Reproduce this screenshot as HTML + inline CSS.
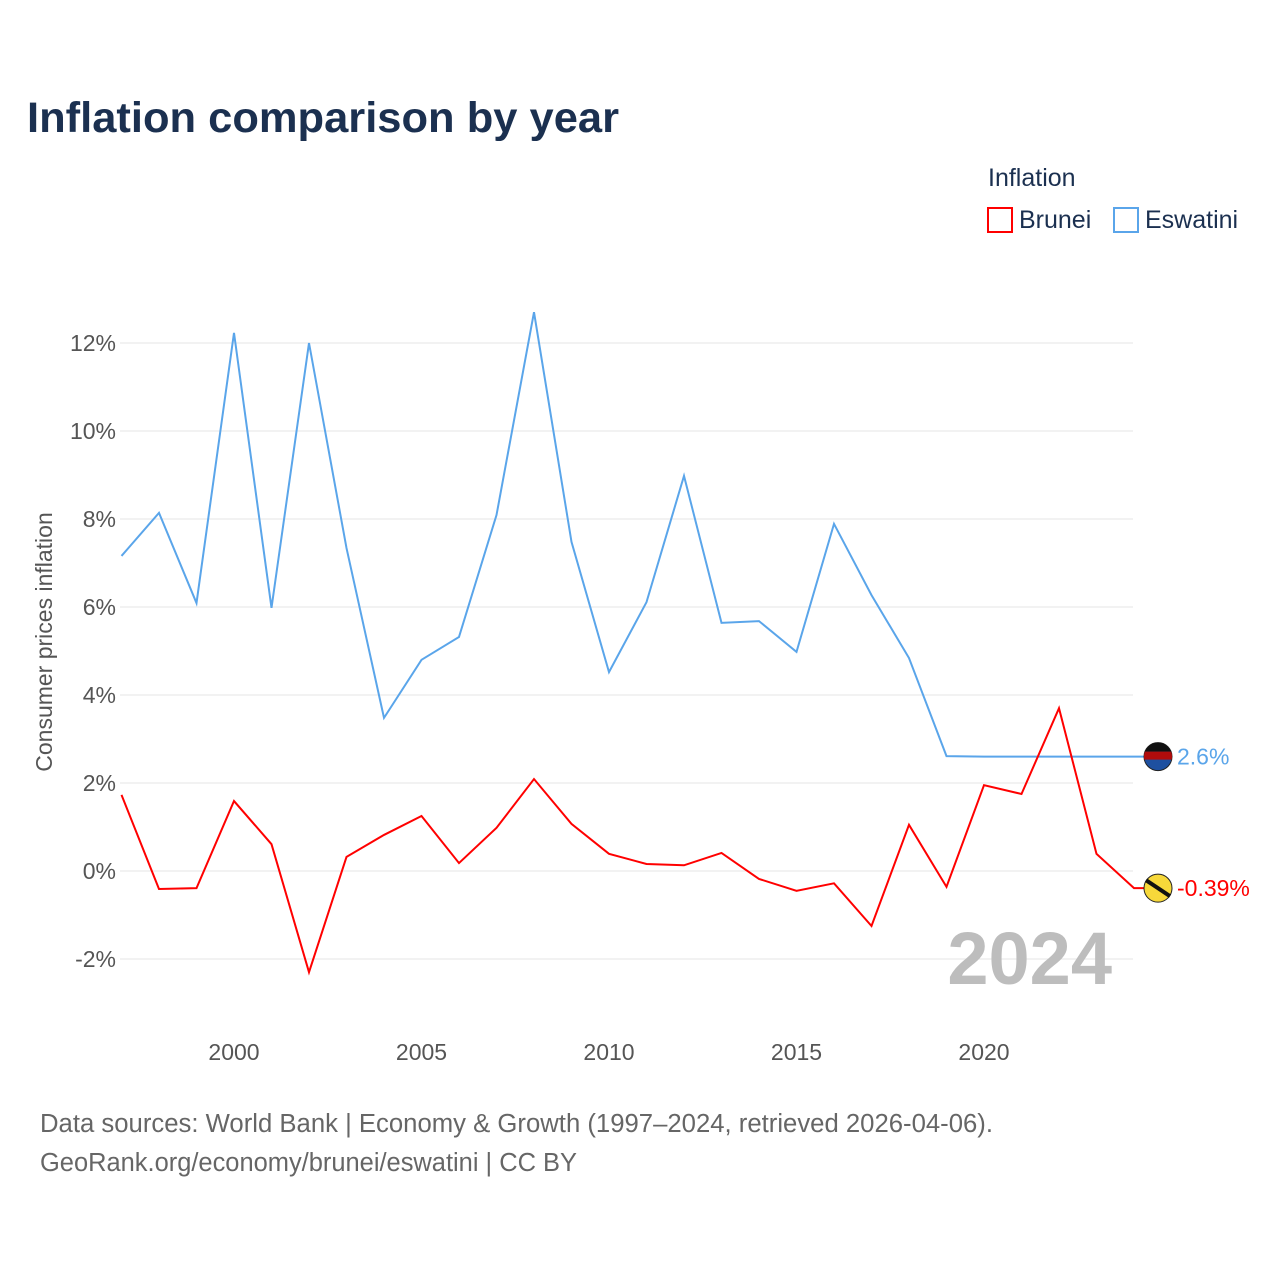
<!DOCTYPE html>
<html><head><meta charset="utf-8">
<style>
body{margin:0;background:#fff;font-family:"Liberation Sans",sans-serif;}
#wrap{position:relative;width:1280px;height:1280px;overflow:hidden;}
</style></head>
<body>
<div id="wrap">
<svg id="chart" width="1280" height="1280" xmlns="http://www.w3.org/2000/svg">
<defs><clipPath id="fc"><circle cx="1158" cy="756.6" r="14"/></clipPath></defs>
<text x="27" y="132" font-size="43" font-weight="bold" fill="#1b3050" textLength="592" lengthAdjust="spacingAndGlyphs">Inflation comparison by year</text>
<text x="988" y="186" font-size="25" fill="#1b3050">Inflation</text>
<g><rect x="988" y="208" width="24" height="24" fill="none" stroke="#ff0000" stroke-width="2"/><text x="1019" y="228" font-size="25" fill="#1b3050">Brunei</text></g>
<g><rect x="1114" y="208" width="24" height="24" fill="none" stroke="#5aa5ea" stroke-width="2"/><text x="1145" y="228" font-size="25" fill="#1b3050">Eswatini</text></g>
<g id="grid"></g><g id="yt"></g><g id="xt"></g>
<text transform="translate(52,642) rotate(-90)" text-anchor="middle" font-size="23" fill="#555">Consumer prices inflation</text>
<text x="1112" y="984" text-anchor="end" font-size="74" font-weight="bold" fill="#bdbdbd">2024</text>
<g id="series"></g>
<text x="40" y="1132" font-size="25.5" fill="#666" textLength="953" lengthAdjust="spacingAndGlyphs">Data sources: World Bank | Economy &amp; Growth (1997–2024, retrieved 2026-04-06).</text>
<text x="40" y="1171" font-size="25.5" fill="#666" textLength="537" lengthAdjust="spacingAndGlyphs">GeoRank.org/economy/brunei/eswatini | CC BY</text>
</svg>
</div>
<script>
const years=[1997,1998,1999,2000,2001,2002,2003,2004,2005,2006,2007,2008,2009,2010,2011,2012,2013,2014,2015,2016,2017,2018,2019,2020,2021,2022,2023,2024];
const eswatini=[7.16,8.14,6.09,12.23,5.98,12.0,7.34,3.48,4.8,5.32,8.09,12.7,7.48,4.52,6.11,8.98,5.64,5.68,4.98,7.89,6.27,4.84,2.61,2.6,2.6,2.6,2.6,2.6];
const brunei=[1.73,-0.41,-0.39,1.59,0.61,-2.3,0.32,0.82,1.25,0.18,0.98,2.09,1.07,0.39,0.16,0.13,0.41,-0.18,-0.45,-0.28,-1.25,1.05,-0.36,1.95,1.75,3.7,0.39,-0.39];
const yTicks=[-2,0,2,4,6,8,10,12];
const xTicks=[2000,2005,2010,2015,2020];
const NS="http://www.w3.org/2000/svg";
const X=y=>234+(y-2000)*37.5;
const Y=v=>871-v*44;
function mk(t,a,p){const e=document.createElementNS(NS,t);for(const k in a)e.setAttribute(k,a[k]);p.appendChild(e);return e;}
const grid=document.getElementById('grid'),yt=document.getElementById('yt'),xt=document.getElementById('xt'),ser=document.getElementById('series');
yTicks.forEach(v=>{
 const l=mk('line',{x1:120,x2:1133,y1:Y(v),y2:Y(v),stroke:'#e6e6e6','stroke-width':1},grid);
 
 
 const t=mk('text',{x:116,y:Y(v)+8,'text-anchor':'end','font-size':23,fill:'#555'},yt);
 t.textContent=v+'%';
 
 
});
xTicks.forEach(v=>{
 const t=mk('text',{x:X(v),y:1060,'text-anchor':'middle','font-size':23,fill:'#555'},xt);
 t.textContent=v;
 
 
});
function line(vals,color,name,label){
 const pts=vals.map((v,i)=>X(years[i])+','+Y(v));
 const last=vals[vals.length-1];
 pts.push((X(years[years.length-1])+24)+','+Y(last));
 const p=mk('polyline',{points:pts.join(' '),fill:'none',stroke:color,'stroke-width':2},ser);
 
 
 const c=mk('circle',{cx:1158,cy:Y(last),r:14,fill:name==='brunei'?'#f7d83a':'#1e50a0',stroke:'#222','stroke-width':1},ser);
 
 
 if(name==='eswatini'){
  const g=mk('g',{'clip-path':'url(#fc)'},ser);
  mk('rect',{x:1140,y:Y(last)-14,width:36,height:9,fill:'#111'},g);
  mk('rect',{x:1140,y:Y(last)-5,width:36,height:8,fill:'#b10c0c'},g);
 } else {mk('line',{x1:1146,y1:Y(last)-8,x2:1170,y2:Y(last)+8,stroke:'#111','stroke-width':4},ser);}
 const t=mk('text',{x:1177,y:Y(last)+8,'font-size':23,fill:color},ser);
 t.textContent=label;
 
 
}
line(eswatini,'#5aa5ea','eswatini','2.6%');
line(brunei,'#ff0000','brunei','-0.39%');
</script>
</body></html>
